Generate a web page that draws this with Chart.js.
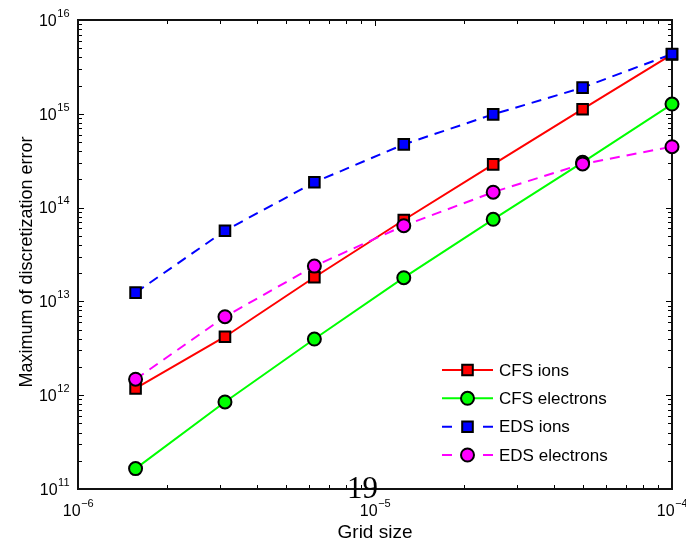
<!DOCTYPE html>
<html>
<head>
<meta http-equiv="Content-Type" content="text/html; charset=UTF-8" />
<title>Maximum of discretization error</title>
<script src="https://cdn.jsdelivr.net/npm/chart.js@4.4.0/dist/chart.umd.min.js"></script>
<style>
body { margin:0; background:#ffffff; }
canvas { display:block; }
</style>
</head>
<body>
<canvas id="canvas" width="686" height="543"></canvas>
<script>
    // data
    var gridSize     = [1.5625e-6, 3.125e-6, 6.25e-6, 1.25e-5, 2.5e-5, 5e-5, 1e-4];
    var cfsIons      = [1.18e12, 4.2e12, 1.81e13, 7.38e13, 2.89e14, 1.12e15, 4.3e15];
    var cfsElectrons = [1.65e11, 8.47e11, 3.97e12, 1.79e13, 7.5e13, 3.04e14, 1.27e15];
    var edsIons      = [1.24e13, 5.67e13, 1.86e14, 4.72e14, 9.87e14, 1.9e15, 4.34e15];
    var edsElectrons = [1.48e12, 6.87e12, 2.38e13, 6.41e13, 1.46e14, 2.92e14, 4.46e14];
    var seriesNames  = ['CFS ions', 'CFS electrons', 'EDS ions', 'EDS electrons'];
    var xTickExp = [-6, -5, -4];
    var yTickExp = [11, 12, 13, 14, 15, 16];
    var xTitle = 'Grid size';
    var yTitle = 'Maximum of discretization error';
    var pageNumber = '19';

    var SANS = '"Liberation Sans", Arial, Helvetica, sans-serif';

    var pts = function(ys) {
        var out = [];
        for (var i = 0; i < gridSize.length; i++) out.push({x: gridSize[i], y: ys[i]});
        return out;
    };

    var makeSet = function(label, ys, color, style, dashed, order) {
        return {
            label: label,
            data: pts(ys),
            borderColor: color,
            backgroundColor: color,
            borderWidth: 2,
            borderDash: dashed ? [10, 7] : [],
            pointStyle: style,
            pointRadius: style == 'rect' ? 7.5 : 6.5,
            pointBackgroundColor: color,
            pointBorderColor: '#000000',
            pointBorderWidth: 2,
            tension: 0,
            clip: false,
            order: order
        };
    };

    var datasets = [
        makeSet(seriesNames[0], cfsIons, '#ff0000', 'rect', false, 4),
        makeSet(seriesNames[1], cfsElectrons, '#00ff00', 'circle', false, 3),
        makeSet(seriesNames[2], edsIons, '#0000ff', 'rect', true, 2),
        makeSet(seriesNames[3], edsElectrons, '#ff00ff', 'circle', true, 1)
    ];

    var drawMarker = function(ctx, ds, x, y) {
        ctx.save();
        ctx.setLineDash([]);
        ctx.fillStyle = ds.pointBackgroundColor;
        ctx.strokeStyle = '#000000';
        ctx.lineWidth = 2;
        ctx.beginPath();
        if (ds.pointStyle == 'rect') {
            var s = ds.pointRadius * Math.SQRT1_2;
            ctx.rect(x - s, y - s, 2 * s, 2 * s);
        } else {
            ctx.arc(x, y, ds.pointRadius, 0, Math.PI * 2);
        }
        ctx.fill();
        ctx.stroke();
        ctx.restore();
    };

    var drawPow = function(ctx, x, y, exp, align) {
        var base = '10';
        var sup = String(exp).replace('-', '\u2212');
        ctx.font = '16px ' + SANS;
        var wb = ctx.measureText(base).width;
        ctx.font = '11px ' + SANS;
        var ws = ctx.measureText(sup).width;
        var x0 = (align == 'right') ? x - wb - ws : x - (wb + ws) / 2;
        ctx.textAlign = 'left';
        ctx.textBaseline = 'alphabetic';
        ctx.font = '16px ' + SANS;
        ctx.fillText(base, x0, y);
        ctx.font = '11px ' + SANS;
        ctx.fillText(sup, x0 + wb + 0.5, y - 9);
    };

    // axes box, ticks (inside, matlab style)
    var axesPlugin = {
        id: 'matlabAxes',
        beforeDatasetsDraw: function(chart) {
            var ctx = chart.ctx, a = chart.chartArea;
            var xs = chart.scales.x, ys = chart.scales.y;
            ctx.save();
            ctx.strokeStyle = '#000000';
            ctx.lineWidth = 1;
            var e, m, p, len;
            for (e = xTickExp[0]; e <= xTickExp[xTickExp.length - 1]; e++) {
                for (m = 1; m <= 9; m++) {
                    if (e == xTickExp[xTickExp.length - 1] && m > 1) break;
                    p = Math.round(xs.getPixelForValue(m * Math.pow(10, e))) + 0.5;
                    len = (m == 1) ? 6 : 4;
                    ctx.beginPath();
                    ctx.moveTo(p, a.bottom); ctx.lineTo(p, a.bottom - len);
                    ctx.moveTo(p, a.top); ctx.lineTo(p, a.top + len);
                    ctx.stroke();
                }
            }
            for (e = yTickExp[0]; e <= yTickExp[yTickExp.length - 1]; e++) {
                for (m = 1; m <= 9; m++) {
                    if (e == yTickExp[yTickExp.length - 1] && m > 1) break;
                    p = Math.round(ys.getPixelForValue(m * Math.pow(10, e))) + 0.5;
                    len = (m == 1) ? 6 : 4;
                    ctx.beginPath();
                    ctx.moveTo(a.left, p); ctx.lineTo(a.left + len, p);
                    ctx.moveTo(a.right, p); ctx.lineTo(a.right - len, p);
                    ctx.stroke();
                }
            }
            ctx.lineWidth = 2;
            ctx.strokeStyle = '#111111';
            ctx.strokeRect(a.left, a.top, a.right - a.left, a.bottom - a.top);
            ctx.restore();
        },
        afterDraw: function(chart) {
            var ctx = chart.ctx, a = chart.chartArea;
            var xs = chart.scales.x, ys = chart.scales.y;
            var i;
            ctx.save();
            ctx.fillStyle = '#000000';
            for (i = 0; i < xTickExp.length; i++) {
                drawPow(ctx, xs.getPixelForValue(Math.pow(10, xTickExp[i])), a.bottom + 27, xTickExp[i], 'center');
            }
            for (i = 0; i < yTickExp.length; i++) {
                drawPow(ctx, a.left - 9, ys.getPixelForValue(Math.pow(10, yTickExp[i])) + 5.7, yTickExp[i], 'right');
            }
            // axis titles
            ctx.font = '19px ' + SANS;
            ctx.textAlign = 'center';
            ctx.textBaseline = 'alphabetic';
            ctx.fillText(xTitle, (a.left + a.right) / 2, 538);
            ctx.save();
            ctx.translate(32, 262);
            ctx.rotate(-Math.PI / 2);
            ctx.font = '18px ' + SANS;
            ctx.fillText(yTitle, 0, 0);
            ctx.restore();

            // legend
            var lx0 = 442, lx1 = 493, mx = 467.5, tx = 499;
            var rows = [370, 398.3, 426.7, 455];
            for (i = 0; i < datasets.length; i++) {
                var ds = datasets[i], y = rows[i];
                ctx.save();
                ctx.strokeStyle = ds.borderColor;
                ctx.lineWidth = 2;
                ctx.beginPath();
                if (ds.borderDash.length) {
                    ctx.moveTo(lx0, y); ctx.lineTo(lx0 + 10, y);
                    ctx.moveTo(lx1 - 10, y); ctx.lineTo(lx1, y);
                } else {
                    ctx.moveTo(lx0, y); ctx.lineTo(lx1, y);
                }
                ctx.stroke();
                ctx.restore();
                drawMarker(ctx, ds, mx, y);
                ctx.fillStyle = '#000000';
                ctx.font = '17px ' + SANS;
                ctx.textAlign = 'left';
                ctx.textBaseline = 'middle';
                ctx.fillText(ds.label, tx, y + 1);
            }

            // stray page number from the source document
            ctx.fillStyle = '#000000';
            ctx.font = '31px "Liberation Serif", "Times New Roman", serif';
            ctx.textAlign = 'center';
            ctx.textBaseline = 'alphabetic';
            ctx.fillText(pageNumber, 362.5, 498);
            ctx.restore();
        }
    };

    var ctx = document.getElementById('canvas').getContext('2d');
    var chart = new Chart(ctx, {
        type: 'line',
        data: { datasets: datasets },
        options: {
            responsive: false,
            animation: false,
            events: [],
            layout: {
                autoPadding: false,
                padding: { left: 78, right: 14, top: 20, bottom: 54 }
            },
            plugins: {
                legend: { display: false },
                tooltip: { enabled: false },
                title: { display: false }
            },
            scales: {
                x: { type: 'logarithmic', min: 1e-6, max: 1e-4, display: false },
                y: { type: 'logarithmic', min: 1e11, max: 1e16, display: false }
            }
        },
        plugins: [axesPlugin]
    });
</script>
</body>
</html>
